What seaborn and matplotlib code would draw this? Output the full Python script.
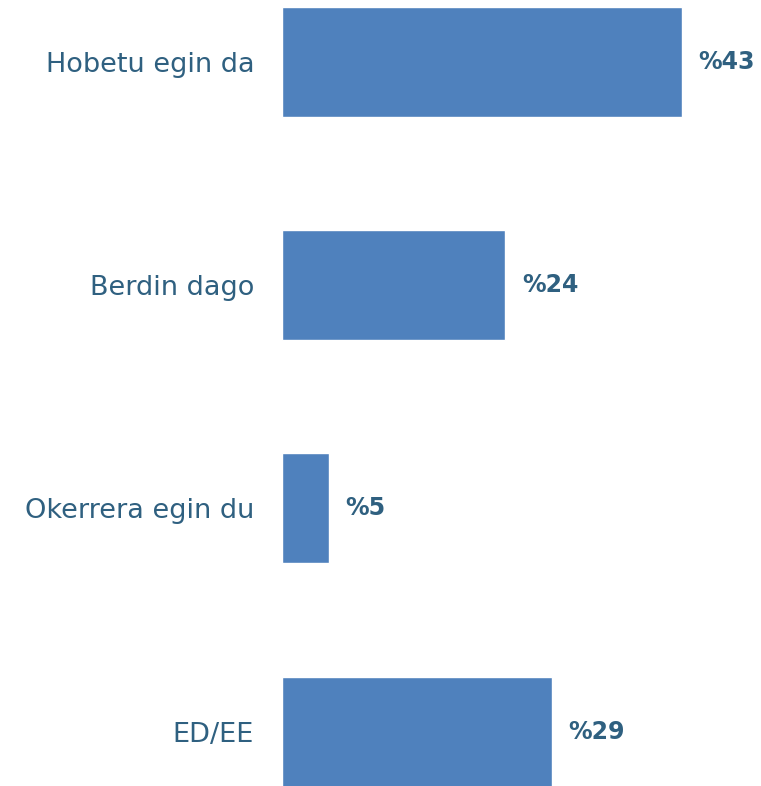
import matplotlib
matplotlib.use("Agg")
import matplotlib.pyplot as plt
import seaborn as sns
import pandas as pd

categories = ["Hobetu egin da", "Berdin dago", "Okerrera egin du", "ED/EE"]
values = [43, 24, 5, 29]
value_labels = ["%43", "%24", "%5", "%29"]

bar_color = "#4F81BD"
text_color = "#2F6080"

sns.set_style("white")
plt.rcParams["font.family"] = ["DejaVu Sans"]

df = pd.DataFrame({"category": categories, "value": values})

fig = plt.figure(figsize=(7.61, 7.86), dpi=100)
ax = fig.add_axes([282 / 761, 0, 479 / 761, 1])

sns.barplot(data=df, x="value", y="category", orient="h", color=bar_color,
            saturation=1, width=0.493, ax=ax)

ax.set_xlim(0, 479 / 9.30)
ax.set_ylim(3.2437, -0.2778)

for i, (v, lab) in enumerate(zip(values, value_labels)):
    ax.annotate(lab, xy=(v, i), xytext=(12, 0), textcoords="offset points",
                ha="left", va="center", fontsize=17, fontweight="bold",
                color=text_color)

ax.set_xlabel("")
ax.set_ylabel("")
ax.set_xticks([])
ax.tick_params(axis="y", length=0, pad=20, labelsize=19.5, labelcolor=text_color)
sns.despine(ax=ax, left=True, bottom=True)

fig.savefig("out.png", dpi=100)
